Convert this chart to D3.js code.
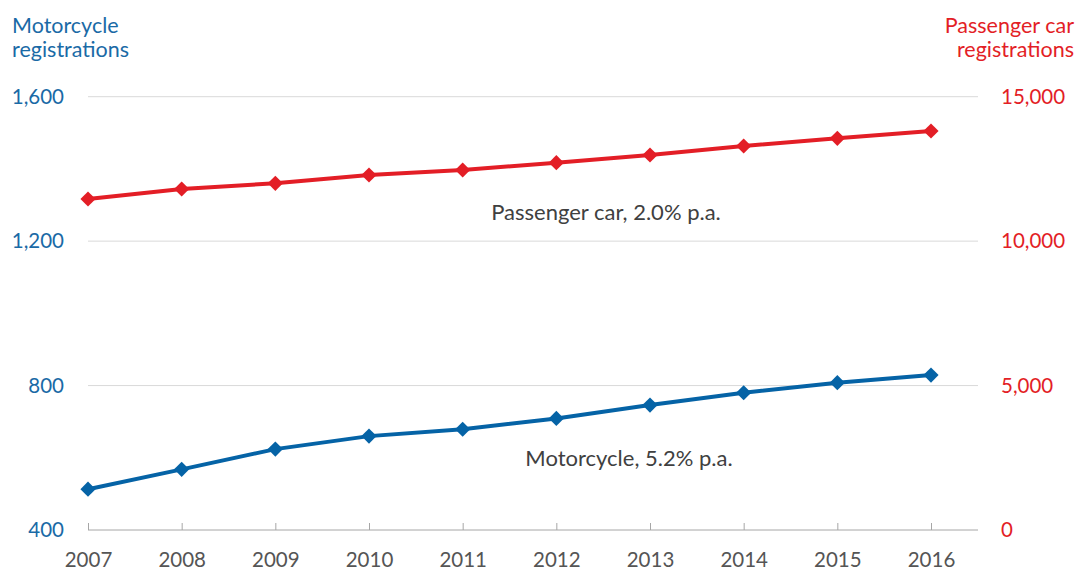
<!DOCTYPE html>
<html><head><meta charset="utf-8">
<script src="https://cdn.jsdelivr.net/npm/d3@7"></script>
<style>
body{margin:0;background:#fff;}
text{font-family:Lato,"Open Sans",sans-serif;}
</style></head>
<body><svg id="c" width="1078" height="572"></svg>
<script>
const years = [2007,2008,2009,2010,2011,2012,2013,2014,2015,2016];
const motorcycle = [513,568,624,660,679,709,746,780,808,829];
const passengerCar = [11458,11805,12002,12289,12462,12715,12982,13293,13560,13812];
const leftTicks = [400,800,1200,1600];
const rightTicks = [0,5000,10000,15000];

const blue = "#0563a6", blueText = "#1a6aa6", red = "#e31e26", gray = "#555";
const svg = d3.select("#c");
const x = d3.scaleLinear().domain([2007,2016]).range([88,931]);
const yL = d3.scaleLinear().domain([400,1600]).range([530,96.7]);
const yR = d3.scaleLinear().domain([0,15000]).range([530,96.7]);
const fmt = d3.format(",");
const tickFs = 20.5, titleFs = 21.5, noteFs = 22;

// gridlines
svg.append("g").selectAll("line").data(leftTicks.slice(1)).join("line")
  .attr("x1",88).attr("x2",978).attr("y1",d=>yL(d)).attr("y2",d=>yL(d))
  .attr("stroke","#d9d9d9").attr("stroke-width",1);

// x axis
const xa = svg.append("g").attr("transform","translate(0,530)")
  .call(d3.axisBottom(x).tickValues(years).tickFormat(d3.format("d")).tickSize(-7).tickPadding(18));
xa.select(".domain").attr("d","M88,0H978").attr("stroke","#a6a6a6");
xa.selectAll(".tick line").attr("stroke","#a6a6a6");
xa.selectAll(".tick text").attr("fill",gray).attr("font-size",tickFs).attr("dy","0.95em");

// left axis
const la = svg.append("g").attr("transform","translate(64,0)")
  .call(d3.axisLeft(yL).tickValues(leftTicks).tickFormat(fmt).tickSize(0).tickPadding(0));
la.select(".domain").remove();
la.selectAll(".tick text").attr("fill",blueText).attr("font-size",tickFs);

// right axis
const ra = svg.append("g").attr("transform","translate(1001,0)")
  .call(d3.axisRight(yR).tickValues(rightTicks).tickFormat(fmt).tickSize(0).tickPadding(0));
ra.select(".domain").remove();
ra.selectAll(".tick text").attr("fill",red).attr("font-size",tickFs);

// titles
svg.append("text").attr("x",12).attr("y",33).attr("fill",blueText).attr("font-size",titleFs).text("Motorcycle");
svg.append("text").attr("x",12).attr("y",57).attr("fill",blueText).attr("font-size",titleFs).text("registrations");
svg.append("text").attr("x",1074).attr("y",33).attr("text-anchor","end").attr("fill",red).attr("font-size",titleFs).text("Passenger car");
svg.append("text").attr("x",1074).attr("y",57).attr("text-anchor","end").attr("fill",red).attr("font-size",titleFs).text("registrations");

function series(vals, y, color){
  const data = years.map((yr,i)=>({yr,v:vals[i]}));
  svg.append("path").datum(data)
    .attr("d",d3.line().x(d=>x(d.yr)).y(d=>y(d.v)))
    .attr("fill","none").attr("stroke",color).attr("stroke-width",4);
  svg.append("g").selectAll("path").data(data).join("path")
    .attr("d",d3.symbol(d3.symbolSquare,115)())
    .attr("transform",d=>`translate(${x(d.yr)},${y(d.v)}) rotate(45)`)
    .attr("fill",color);
}
series(passengerCar, yR, red);
series(motorcycle, yL, blue);

svg.append("text").attr("x",606).attr("y",220).attr("text-anchor","middle").attr("fill","#404040").attr("font-size",noteFs).text("Passenger car, 2.0% p.a.");
svg.append("text").attr("x",629).attr("y",466).attr("text-anchor","middle").attr("fill","#404040").attr("font-size",noteFs).text("Motorcycle, 5.2% p.a.");
</script></body></html>
